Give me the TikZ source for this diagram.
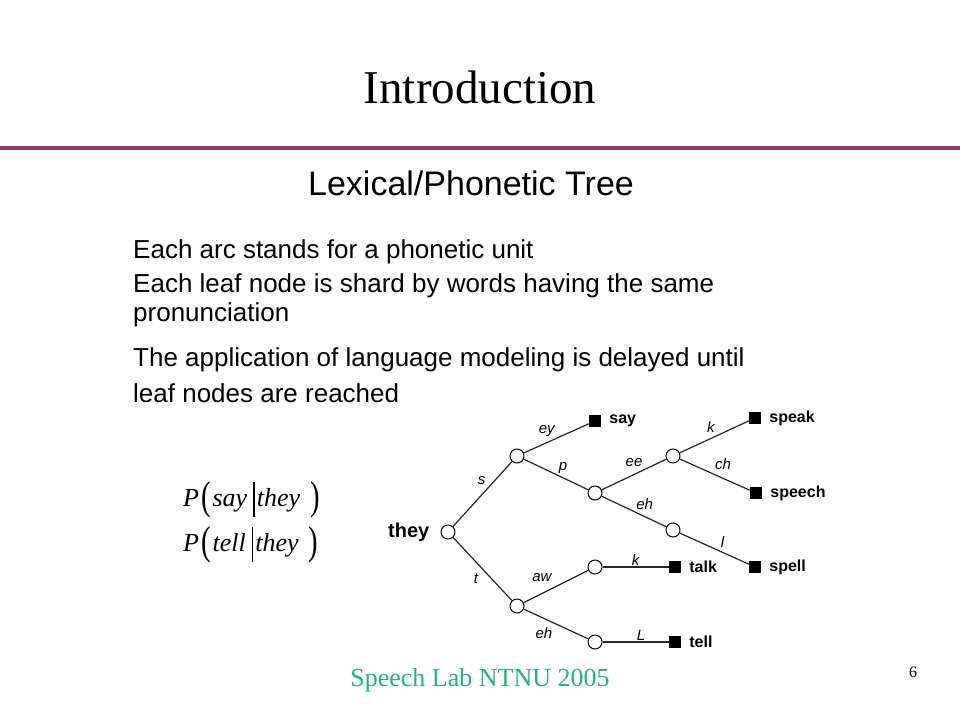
\documentclass[tikz,border=0pt]{standalone}
\usepackage{graphicx}
\usepackage{fontspec}
\setmainfont{Liberation Serif}
\setsansfont{Liberation Sans}
\usepackage{tikz}
\usetikzlibrary{positioning}

\definecolor{rulered}{RGB}{140,56,96}
\definecolor{footgreen}{RGB}{38,178,128}

% tall delimiters for the probabilities
\newcommand{\tallp}[1]{\raisebox{-0.13em}{\scalebox{1.1}[1.55]{\upshape#1}}}
\newcommand{\givenbar}{\rule[-0.44em]{1.6pt}{1.36em}}

\tikzset{
  state/.style={circle, draw, fill=white, minimum size=14pt, inner sep=0pt, line width=1pt},
  leaf/.style={rectangle, fill=black, minimum size=12pt, inner sep=0pt},
  arc/.style={line width=1.2pt, draw=black!85},
  lbl/.style={font=\fontsize{15}{15}\selectfont\sffamily\itshape, inner sep=1pt},
  word/.style={font=\fontsize{16}{18}\selectfont\sffamily\bfseries, inner sep=1pt},
  bullet/.style={font=\fontsize{26}{30}\selectfont\sffamily, anchor=base west, inner sep=0pt},
  prob/.style={font=\fontsize{26}{30}\selectfont\itshape, anchor=base west, inner sep=0pt}
}

\begin{document}
\begin{tikzpicture}[x=1pt, y=-1pt]
\useasboundingbox (0,0) rectangle (960,720);
\fill[white] (0,0) rectangle (960,720);

% ── Slide heading ───────────────────────────────────────────
\node[anchor=base, font=\fontsize{47}{50}\selectfont] (title) at (480,103) {Introduction};
\fill[rulered] (0,146) rectangle (960,150);
\node[anchor=base, font=\fontsize{34}{38}\selectfont\sffamily] (sub) at (471,195) {Lexical/Phonetic Tree};

% ── Bullet text ─────────────────────────────────────────────
\node[bullet] (b1) at (133,258) {Each arc stands for a phonetic unit};
\node[bullet] (b2) at (133,292) {Each leaf node is shard by words having the same};
\node[bullet] (b2b) at (133,321) {pronunciation};
\node[bullet] (b3) at (133,366) {The application of language modeling is delayed until};
\node[bullet] (b3b) at (133,402) {leaf nodes are reached};

% ── Probabilities ───────────────────────────────────────────
\node[prob] (psay) at (183,506)
  {P\kern2pt\tallp{(}\kern2pt say\kern6pt\givenbar\kern2pt they\kern10pt\tallp{)}};
\node[prob] (ptell) at (183,551)
  {P\kern2pt\tallp{(}\kern2pt tell\kern6pt\givenbar\kern2pt they\kern10pt\tallp{)}};

% ── Tree states ─────────────────────────────────────────────
\node[state] (root) at (448,532) {};
\node[state] (s1) at (517,456) {};
\node[state] (sp) at (595,493) {};
\node[state] (spee) at (673,456) {};
\node[state] (speh) at (673,530) {};
\node[state] (t1) at (517,606) {};
\node[state] (taw) at (595,567) {};
\node[state] (teh) at (595,642) {};

% ── Leaves (words) ──────────────────────────────────────────
\node[leaf] (say) at (595,421) {};
\node[leaf] (speak) at (755,418) {};
\node[leaf] (speech) at (756,493) {};
\node[leaf] (spell) at (755,567) {};
\node[leaf] (talk) at (675,567) {};
\node[leaf] (tell) at (675,642) {};

\node[word, font=\fontsize{20}{22}\selectfont\sffamily\bfseries, left=10pt of root] (they) {they};
\node[word, right=7pt of say] (saytxt) {say};
\node[word, right=7pt of speak] (speaktxt) {speak};
\node[word, right=7pt of speech] (speechtxt) {speech};
\node[word, right=7pt of spell] (spelltxt) {spell};
\node[word, right=7pt of talk] (talktxt) {talk};
\node[word, right=7pt of tell] (telltxt) {tell};

% ── Arcs with phonetic units ────────────────────────────────
\draw[arc] (root) -- node[lbl, pos=.6, above left=2pt] {s} (s1);
\draw[arc] (s1) -- node[lbl, pos=.5, above left=0pt] {ey} (say);
\draw[arc] (s1) -- node[lbl, pos=.52, above right=0pt] {p} (sp);
\draw[arc] (sp) -- node[lbl, pos=.5, above=6pt] {ee} (spee);
\draw[arc] (spee) -- node[lbl, pos=.45, above=4pt] {k} (speak);
\draw[arc] (spee) -- node[lbl, pos=.45, above right=3pt] {ch} (speech);
\draw[arc] (sp) -- node[lbl, pos=.5, above right=1pt] {eh} (speh);
\draw[arc] (speh) -- node[lbl, pos=.55, above right=2pt] {l} (spell);
\draw[arc] (root) -- node[lbl, pos=.5, below left=4pt] {t} (t1);
\draw[arc] (t1) -- node[lbl, pos=.5, above left=4pt] {aw} (taw);
\draw[arc] (taw) -- node[lbl, pos=.5, above=0pt] {k} (talk);
\draw[arc] (t1) -- node[lbl, pos=.5, below left=3pt] {eh} (teh);
\draw[arc] (teh) -- node[lbl, pos=.58, above=0pt] {L} (tell);

% ── Footer ──────────────────────────────────────────────────
\node[anchor=base, font=\fontsize{26}{30}\selectfont, text=footgreen] (foot) at (480,686) {Speech Lab NTNU 2005};
\node[anchor=base, font=\fontsize{16}{18}\selectfont] (page) at (913,677) {6};

\end{tikzpicture}
\end{document}
